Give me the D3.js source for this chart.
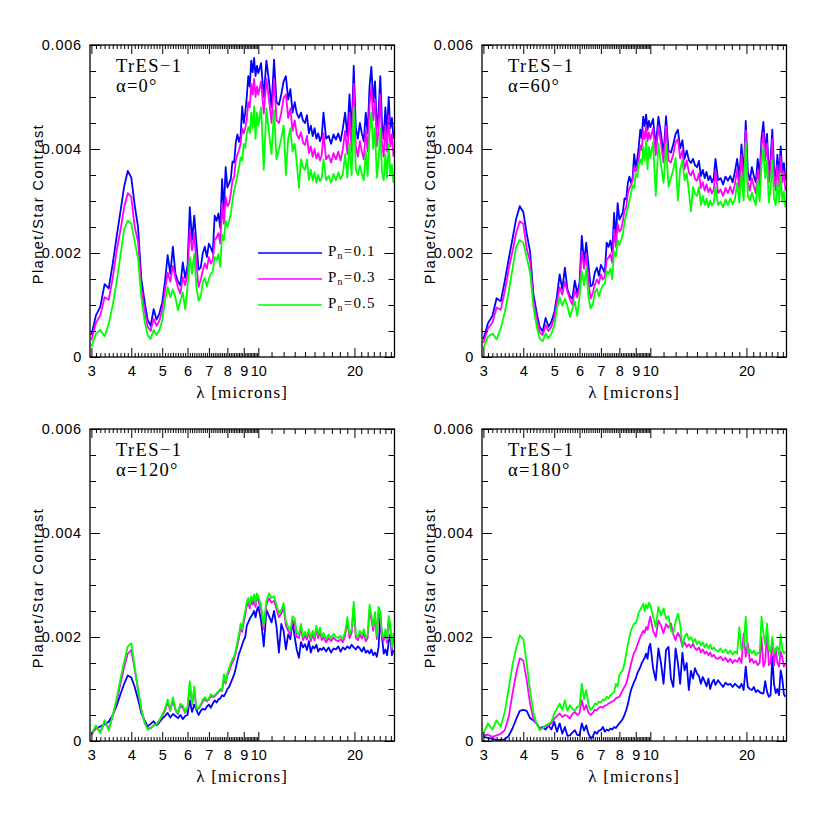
<!DOCTYPE html>
<html><head><meta charset="utf-8">
<script src="https://cdn.jsdelivr.net/npm/d3@7"></script>
<style>body{margin:0;background:#fff}</style>
</head><body>
<svg id="chart" width="830" height="830"></svg>
<script>
// Wavelength grid (microns)
const wavelength = [
 3.0,3.1,3.2,3.3,3.4,3.5,3.6,3.7,3.8,3.9,
 4.0,4.1,4.2,4.3,4.4,4.5,4.6,4.7,4.8,4.9,
 5.0,5.1,5.2,5.3,5.4,5.5,5.6,5.7,5.8,5.9,
 6.0,6.1,6.2,6.3,6.4,6.5,6.6,6.7,6.8,6.9,
 7.0,7.1,7.2,7.3,7.4,7.5,7.6,7.7,7.8,7.9,
 8.0,8.1,8.2,8.3,8.4,8.5,8.6,8.7,8.8,8.9,
 9.0,9.1,9.2,9.3,9.4,9.5,9.6,9.7,9.8,9.9,
 10.0,10.2,10.4,10.6,10.8,11.0,11.2,11.4,11.6,11.8,
 12.0,12.2,12.4,12.6,12.8,13.0,13.2,13.4,13.6,13.8,
 14.0,14.2,14.4,14.6,14.8,15.0,15.2,15.4,15.6,15.8,
 16.0,16.3,16.6,16.9,17.2,17.5,17.8,18.1,18.4,18.7,
 19.0,19.3,19.6,19.9,20.2,20.5,20.8,21.1,21.4,21.7,
 22.0,22.3,22.6,22.9,23.2,23.5,23.8,24.1,24.4,24.7,
 25.0,25.3,25.6,25.9,26.2,26.5];

// Planet/star contrast, stored in units of 1e-5
const UNIT = 1e-5;

// alpha = 0
const blue_a0 = [
 42,80,97,140,132,180,232,280,328,358,
 345,292,250,150,108,72,60,92,72,84,
 105,145,196,160,212,160,145,138,182,152,
 175,288,225,272,218,168,172,200,212,192,
 218,210,200,272,262,276,248,342,282,365,
 326,334,343,376,374,412,428,414,425,482,
 450,470,500,540,520,570,548,575,540,560,
 546,565,500,570,530,480,572,490,485,505,
 530,540,495,515,470,490,468,460,470,455,
 450,465,430,445,425,440,420,430,415,425,
 470,420,425,410,428,418,430,415,440,470,
 425,505,430,560,440,420,450,430,415,470,
 430,520,558,490,530,440,470,540,450,420,
 480,430,500,440,460,420];
const magenta_a0 = [
 32,66,80,115,110,152,204,244,288,315,
 308,250,222,132,92,58,50,74,60,70,
 90,128,162,145,175,152,134,122,154,138,
 160,245,205,238,175,135,148,167,180,170,
 192,180,186,225,230,238,218,295,256,308,
 290,295,314,340,346,378,390,398,410,440,
 430,440,458,490,480,525,505,535,500,520,
 505,530,468,535,495,450,535,455,450,470,
 498,505,460,478,435,455,428,420,432,412,
 408,425,392,405,385,400,382,392,378,388,
 430,380,388,374,392,380,395,378,400,435,
 390,470,395,525,405,385,415,395,380,435,
 395,485,520,455,495,405,435,505,412,385,
 445,395,465,405,428,385];
const green_a0 = [
 20,45,52,40,64,100,145,196,246,262,
 256,222,190,115,70,42,35,52,42,52,
 70,108,134,115,130,114,90,108,124,92,
 134,192,160,198,134,108,116,144,152,136,
 150,160,164,192,186,198,174,236,224,262,
 250,262,275,300,320,334,350,365,384,378,
 410,402,430,442,430,470,440,482,420,470,
 445,480,360,478,430,390,475,380,400,420,
 445,350,420,440,395,410,372,325,380,365,
 360,380,340,360,340,355,335,350,338,345,
 380,340,348,335,352,340,355,342,352,390,
 345,410,350,480,360,350,368,352,340,395,
 348,430,470,400,440,345,375,440,355,340,
 390,345,410,350,370,335];

// alpha = 60
const blue_a60 = [
 34,65,79,113,107,146,188,227,266,290,
 279,237,203,122,87,58,49,75,58,68,
 85,117,159,130,172,130,117,112,147,123,
 142,233,182,220,177,136,139,162,172,156,
 177,170,162,220,212,224,201,277,228,296,
 264,271,278,305,303,334,347,335,344,390,
 365,381,405,437,421,462,444,466,437,454,
 442,458,405,462,429,389,463,397,393,409,
 429,437,401,417,381,397,379,373,381,369,
 365,377,348,360,344,356,340,348,336,344,
 381,340,344,332,347,339,348,336,356,381,
 344,409,348,454,356,340,365,348,336,381,
 348,421,452,397,429,356,381,437,365,340,
 389,348,405,356,373,340];
const magenta_a60 = [
 27,55,66,95,91,126,169,203,239,261,
 256,208,184,110,76,48,42,61,50,58,
 75,106,134,120,145,126,111,101,128,115,
 133,203,170,198,145,112,123,139,149,141,
 159,149,154,187,191,198,181,245,212,256,
 241,245,261,282,287,314,324,330,340,365,
 357,365,380,407,398,436,419,444,415,432,
 419,440,388,444,411,374,444,378,374,390,
 413,419,382,397,361,378,355,349,359,342,
 339,353,325,336,320,332,317,325,314,322,
 357,315,322,310,325,315,328,314,332,361,
 324,390,328,436,336,320,344,328,315,361,
 328,403,432,378,411,336,361,419,342,320,
 369,328,386,336,355,320];
const green_a60 = [
 17,39,45,34,55,86,125,169,212,225,
 220,191,163,99,60,36,30,45,36,45,
 60,93,115,99,112,98,77,93,107,79,
 115,165,138,170,115,93,100,124,131,117,
 129,138,141,165,160,170,150,203,193,225,
 215,225,237,258,275,287,301,314,330,325,
 353,346,370,380,370,404,378,415,361,404,
 383,413,310,411,370,335,409,327,344,361,
 383,301,361,378,340,353,320,280,327,314,
 310,327,292,310,292,305,288,301,291,297,
 327,292,299,288,303,292,305,294,303,335,
 297,353,301,413,310,301,316,303,292,340,
 299,370,404,344,378,297,323,378,305,292,
 335,297,353,301,318,288];

// alpha = 120
const blue_a120 = [
 14,24,28,32,37,50,68,90,110,126,
 122,104,80,54,40,28,33,38,30,36,
 43,48,54,45,52,48,44,50,42,48,
 50,78,56,70,60,50,58,62,60,66,
 70,64,72,78,74,80,82,88,86,92,
 100,104,112,120,128,140,155,168,176,185,
 194,200,222,228,235,240,244,250,238,252,
 258,232,182,252,240,228,250,220,170,225,
 212,176,205,196,230,200,175,160,190,180,
 186,175,192,170,182,178,185,172,178,175,
 180,172,180,170,178,176,182,172,180,176,
 182,178,185,180,176,182,178,172,180,170,
 174,168,176,165,170,162,180,238,200,168,
 176,165,190,205,165,175];
const magenta_a120 = [
 12,26,18,36,24,48,76,110,142,168,
 175,138,98,60,36,24,25,30,32,40,
 48,58,74,58,78,60,52,68,64,54,
 62,108,70,98,62,62,68,76,80,76,
 80,86,84,86,90,94,98,96,120,110,
 126,134,144,152,158,170,184,198,218,210,
 228,242,260,266,255,270,262,274,258,276,
 270,252,215,262,275,266,270,254,238,245,
 256,222,212,205,232,226,200,198,218,194,
 203,195,208,192,205,194,214,198,210,194,
 200,190,198,192,199,194,192,196,190,203,
 230,198,208,258,198,194,205,197,207,192,
 198,252,234,212,240,196,248,240,198,193,
 207,189,232,217,175,200];
const green_a120 = [
 14,30,15,40,20,50,82,120,152,182,
 188,142,100,62,36,22,24,30,32,40,
 50,62,80,60,84,62,54,72,68,55,
 66,115,72,105,62,64,70,80,84,78,
 82,90,86,88,92,96,100,98,128,112,
 130,140,150,158,162,175,190,205,226,215,
 236,250,268,275,262,278,270,282,265,284,
 278,260,222,270,284,275,278,262,245,252,
 265,230,220,212,240,235,208,205,225,200,
 210,202,215,198,212,200,222,205,218,200,
 208,196,205,198,206,200,198,202,196,210,
 238,205,215,268,205,200,212,204,215,198,
 205,262,242,220,248,202,258,250,205,200,
 215,195,240,225,180,208];

// alpha = 180
const blue_a180 = [
 8,6,4,2,2,3,10,24,42,58,
 60,58,44,40,34,24,27,22,30,22,
 37,18,34,14,27,10,11,16,21,12,
 11,34,20,30,14,6,8,18,14,20,
 21,27,18,22,20,24,22,27,25,30,
 34,38,43,50,59,70,85,98,106,114,
 120,130,136,142,150,155,160,168,158,180,
 187,140,117,178,150,110,175,181,120,104,
 178,150,110,170,136,150,98,135,120,140,
 130,125,110,123,115,105,120,100,112,118,
 108,117,110,104,112,108,110,104,110,106,
 102,110,98,143,104,100,98,104,94,98,
 94,92,91,115,95,85,88,162,110,92,
 100,88,136,120,90,85];
const magenta_a180 = [
 11,12,8,11,14,21,46,91,130,159,
 155,117,72,43,34,24,25,28,30,34,
 43,48,53,46,50,48,43,52,56,50,
 53,78,60,69,55,50,54,60,59,64,
 66,64,68,69,72,74,76,78,82,84,
 85,92,98,104,110,122,135,148,160,170,
 176,184,192,200,206,212,208,219,214,228,
 239,212,200,232,222,207,225,218,226,205,
 194,208,200,181,190,181,186,180,187,178,
 175,180,170,176,168,172,165,170,162,166,
 160,158,162,155,160,152,158,150,156,152,
 160,150,207,162,188,152,158,150,154,146,
 150,200,143,152,213,146,150,195,145,178,
 150,143,172,160,143,148];
const green_a180 = [
 14,34,22,40,28,56,100,146,178,203,
 196,150,98,55,34,21,24,30,33,37,
 53,62,72,60,78,58,69,62,58,66,
 66,110,80,98,70,60,64,72,70,76,
 74,80,78,85,82,88,91,94,110,105,
 127,132,136,150,168,185,200,213,220,226,
 226,235,248,252,258,264,250,262,255,266,
 261,240,219,258,242,255,235,240,212,207,
 230,245,225,181,200,207,195,200,190,196,
 186,192,184,190,180,187,178,185,176,180,
 175,172,178,170,176,168,174,166,172,168,
 219,175,182,239,170,176,168,174,165,170,
 168,239,207,185,226,176,170,200,168,175,
 182,164,205,176,168,172];

const planetName = "TrES\u22121";
const phaseAngles = ["0", "60", "120", "180"];
const seriesLabels = ["0.1", "0.3", "0.5"];
const seriesColors = ["#0000ff", "#ff00ff", "#00ff00"];
const xMajorTicks = [3, 4, 5, 6, 7, 8, 9, 10, 20];
const yMajorTicks = [0, 0.002, 0.004, 0.006];
const yTickLabels = ["0", "0.002", "0.004", "0.006"];

const panelSeries = [
  [blue_a0, magenta_a0, green_a0],
  [blue_a60, magenta_a60, green_a60],
  [blue_a120, magenta_a120, green_a120],
  [blue_a180, magenta_a180, green_a180]
];

// layout
const panelPos = [{left: 90, top: 45}, {left: 482, top: 45}, {left: 90, top: 429}, {left: 482, top: 429}];
const W = 304.5, H = 312;
const SANS = "'Liberation Sans', Arial, sans-serif";
const SERIF = "'Liberation Serif', 'Times New Roman', serif";

const xFine = d3.range(31, 100).filter(v => v % 10 !== 0).map(v => v / 10);
const xIntMinor = d3.range(11, 27).filter(v => v !== 20);
const yMinor = d3.range(1, 12).filter(v => v % 4 !== 0).map(v => v * 0.0005);

const svg = d3.select("#chart");

panelPos.forEach((p, i) => {
  const g = svg.append("g").attr("transform", `translate(${p.left},${p.top})`);
  const x = d3.scaleLog().domain([2.97, 26.7]).range([0, W]);
  const y = d3.scaleLinear().domain([0, 0.006]).range([H, 0]);

  const clipId = "clip" + i;
  g.append("clipPath").attr("id", clipId).append("rect").attr("width", W).attr("height", H);

  const line = d3.line().x((d, j) => x(wavelength[j])).y(d => y(d * UNIT));
  const plot = g.append("g").attr("clip-path", `url(#${clipId})`);
  panelSeries[i].forEach((vals, k) => {
    plot.append("path").datum(vals)
      .attr("d", line).attr("fill", "none")
      .attr("stroke", seriesColors[k]).attr("stroke-width", 1.8)
      .attr("stroke-linejoin", "round");
  });

  // ticks (inward on all four sides)
  const addAxis = (axis, tx, ty, labels) => {
    const a = g.append("g").attr("transform", `translate(${tx},${ty})`).call(axis);
    a.select(".domain").remove();
    a.selectAll("line").attr("stroke", "#000").attr("stroke-width", 1);
    if (!labels) a.selectAll("text").remove();
    return a;
  };
  addAxis(d3.axisBottom(x).tickValues(xFine).tickSize(-4).tickFormat(""), 0, H, false);
  addAxis(d3.axisBottom(x).tickValues(xIntMinor).tickSize(-5).tickFormat(""), 0, H, false);
  const xb = addAxis(d3.axisBottom(x).tickValues(xMajorTicks).tickSize(-9).tickPadding(9).tickFormat(d3.format("d")), 0, H, true);
  xb.selectAll("text").attr("font-family", SANS).attr("font-size", 14.5).attr("fill", "#000");
  addAxis(d3.axisTop(x).tickValues(xFine).tickSize(-4).tickFormat(""), 0, 0, false);
  addAxis(d3.axisTop(x).tickValues(xIntMinor).tickSize(-5).tickFormat(""), 0, 0, false);
  addAxis(d3.axisTop(x).tickValues(xMajorTicks).tickSize(-9).tickFormat(""), 0, 0, false);

  addAxis(d3.axisLeft(y).tickValues(yMinor).tickSize(-6).tickFormat(""), 0, 0, false);
  const yl = addAxis(d3.axisLeft(y).tickValues(yMajorTicks).tickSize(-10).tickPadding(8).tickFormat((d, k) => yTickLabels[k]), 0, 0, true);
  yl.selectAll("text").attr("font-family", SANS).attr("font-size", 14.5).attr("letter-spacing", 0.8).attr("fill", "#000");
  addAxis(d3.axisRight(y).tickValues(yMinor).tickSize(-6).tickFormat(""), W, 0, false);
  addAxis(d3.axisRight(y).tickValues(yMajorTicks).tickSize(-10).tickFormat(""), W, 0, false);

  // frame
  g.append("rect").attr("width", W).attr("height", H)
    .attr("fill", "none").attr("stroke", "#000").attr("stroke-width", 1.3);

  // axis titles
  g.append("text").attr("x", W / 2).attr("y", H + 41)
    .attr("text-anchor", "middle").attr("font-family", SERIF).attr("font-size", 17)
    .attr("letter-spacing", 1.2).text("\u03bb [microns]");
  g.append("text").attr("transform", `translate(-47,${H / 2 + 3}) rotate(-90)`)
    .attr("text-anchor", "middle").attr("font-family", SANS).attr("font-size", 14.5)
    .attr("letter-spacing", 1.5).text("Planet/Star Contrast");

  // annotation
  g.append("text").attr("x", 26).attr("y", 27)
    .attr("font-family", SERIF).attr("font-size", 18.5).attr("letter-spacing", 1.4)
    .text(planetName);
  g.append("text").attr("x", 26).attr("y", 47)
    .attr("font-family", SERIF).attr("font-size", 18.5).attr("letter-spacing", 1.2)
    .text("\u03b1=" + phaseAngles[i] + "\u00b0");

  // legend (first panel only)
  if (i === 0) {
    seriesLabels.forEach((lab, k) => {
      const ly = 208 + k * 26;
      g.append("line").attr("x1", 168).attr("x2", 232).attr("y1", ly).attr("y2", ly)
        .attr("stroke", seriesColors[k]).attr("stroke-width", 1.6);
      const t = g.append("text").attr("x", 238).attr("y", ly + 3)
        .attr("font-family", SERIF).attr("font-size", 15).attr("letter-spacing", 1.2);
      t.append("tspan").text("P");
      t.append("tspan").attr("font-size", 10).attr("dy", 3).text("n");
      t.append("tspan").attr("dy", -3).text("=" + lab);
    });
  }
});
</script>
</body></html>
